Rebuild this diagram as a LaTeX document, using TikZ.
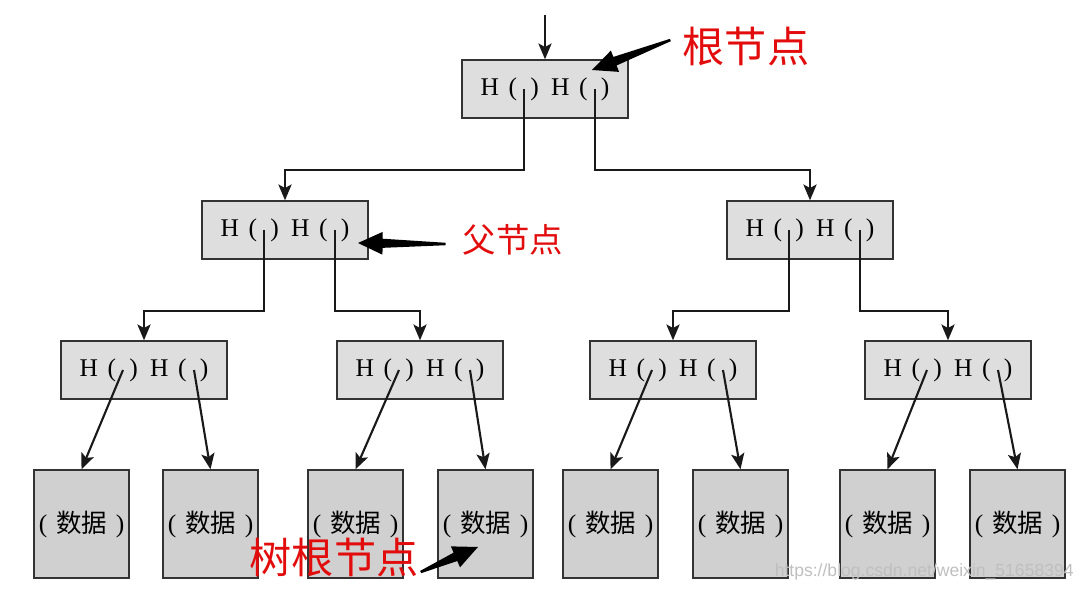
\documentclass[tikz,border=0pt]{standalone}
\usepackage{fontspec}
\setmainfont{Liberation Serif}
\newfontfamily\cjk{Noto Sans CJK SC}
\newfontfamily\wmfont{Liberation Sans}
\usetikzlibrary{calc,arrows.meta}
\definecolor{hashgray}{RGB}{222,222,222}
\definecolor{datagray}{RGB}{208,208,208}
\definecolor{labelred}{RGB}{226,12,12}
\def\hpair{H\hspace{5.5pt}(\hspace{7.5pt})\hspace{7pt}H\hspace{5.5pt}(\hspace{7.5pt})}
\def\datum{(\hspace{5pt}{\cjk 数据}\hspace{5pt})}
\def\fatarrow(#1)(#2){%
	\coordinate (fa-b) at ($(#2)!14pt!(#1)$);
	\fill ($(#1)!0.7pt!90:(#2)$) -- ($(fa-b)!2.6pt!-90:(#1)$) -- ($(fa-b)!6.5pt!-90:(#1)$) -- (#2)
		-- ($(fa-b)!6.5pt!90:(#1)$) -- ($(fa-b)!2.6pt!90:(#1)$) -- ($(#1)!0.7pt!-90:(#2)$) -- cycle;}

\begin{document}
\begin{tikzpicture}[x=0.02cm, y=-0.02cm,
	hashbox/.style={draw=black!80, line width=0.8pt, fill=hashgray, minimum width=3.32cm, minimum height=1.16cm, inner sep=0pt, font=\fontsize{14.5}{16}\selectfont},
	databox/.style={draw=black!80, line width=0.8pt, fill=datagray, minimum width=1.9cm, minimum height=2.16cm, inner sep=0pt, font=\fontsize{14.5}{16}\selectfont},
	link/.style={line width=1.2pt, black!90, -{Stealth[length=9pt,width=7.5pt,inset=2pt]}},
	note/.style={text=labelred, font=\cjk\fontsize{24}{26}\selectfont, inner sep=0pt}]
		%%%%% START %%%%%
		
		\useasboundingbox (0,0) rectangle (1080,592);
		
		\node[hashbox] (root) at (545,89) {\hpair};
		
		\node[hashbox] (hl) at (285,230) {\hpair};
		\node[hashbox] (hr) at (810,230) {\hpair};
		
		\node[hashbox] (hll) at (144,370) {\hpair};
		\node[hashbox] (hlr) at (420,370) {\hpair};
		\node[hashbox] (hrl) at (673,370) {\hpair};
		\node[hashbox] (hrr) at (948,370) {\hpair};
		
		\node[databox] (d1) at (81.5,524) {\datum};
		\node[databox] (d2) at (210.5,524) {\datum};
		\node[databox] (d3) at (355.5,524) {\datum};
		\node[databox] (d4) at (485.5,524) {\datum};
		\node[databox] (d5) at (610.5,524) {\datum};
		\node[databox] (d6) at (740.5,524) {\datum};
		\node[databox] (d7) at (887.5,524) {\datum};
		\node[databox] (d8) at (1017.5,524) {\datum};
		
		\coordinate (entry) at (545,15);
		\draw[link] (entry) -- (root.north);
		
		\draw[link] ($(root)+(-21,0)$) |- ($(hl.north)+(0,-30)$) -- (hl.north);
		\draw[link] ($(root)+(50,0)$) |- ($(hr.north)+(0,-30)$) -- (hr.north);
		
		\draw[link] ($(hl)+(-21,0)$) |- ($(hll.north)+(0,-29)$) -- (hll.north);
		\draw[link] ($(hl)+(50,0)$) |- ($(hlr.north)+(0,-29)$) -- (hlr.north);
		\draw[link] ($(hr)+(-21,0)$) |- ($(hrl.north)+(0,-29)$) -- (hrl.north);
		\draw[link] ($(hr)+(50,0)$) |- ($(hrr.north)+(0,-29)$) -- (hrr.north);
		
		\draw[link] ($(hll)+(-21,0)$) -- (d1.north);
		\draw[link] ($(hll)+(50,0)$) -- (d2.north);
		\draw[link] ($(hlr)+(-21,0)$) -- (d3.north);
		\draw[link] ($(hlr)+(50,0)$) -- (d4.north);
		\draw[link] ($(hrl)+(-21,0)$) -- (d5.north);
		\draw[link] ($(hrl)+(50,0)$) -- (d6.north);
		\draw[link] ($(hrr)+(-21,0)$) -- (d7.north);
		\draw[link] ($(hrr)+(50,0)$) -- (d8.north);
		
		% red notes
		\node[note] (tagroot) at (746,46) {根节点};
		\coordinate (rootspot) at (592,70);
		\coordinate (roottail) at ($(tagroot.west)+(-12,-6)$);
		\fatarrow(roottail)(rootspot)
		
		\node[note, font=\cjk\fontsize{19}{21}\selectfont] (tagparent) at (513,240) {父节点};
		\coordinate (parentspot) at (358,243);
		\coordinate (parenttail) at ($(tagparent.west)+(-17,4)$);
		\fatarrow(parenttail)(parentspot)
		
		\node[note] (tagdata) at (334,557) {树根节点};
		\coordinate (dataspot) at (478,547);
		\coordinate (datatail) at ($(tagdata.east)+(2,15)$);
		\fatarrow(datatail)(dataspot)
		
		\node[font=\wmfont\fontsize{10}{12}\selectfont, text=black!25, anchor=east, inner sep=0pt] (mark) at (1074,572) {https://blog.csdn.net/weixin\_51658394};
		
		%%%%% END %%%%%
	\end{tikzpicture}
\end{document}
